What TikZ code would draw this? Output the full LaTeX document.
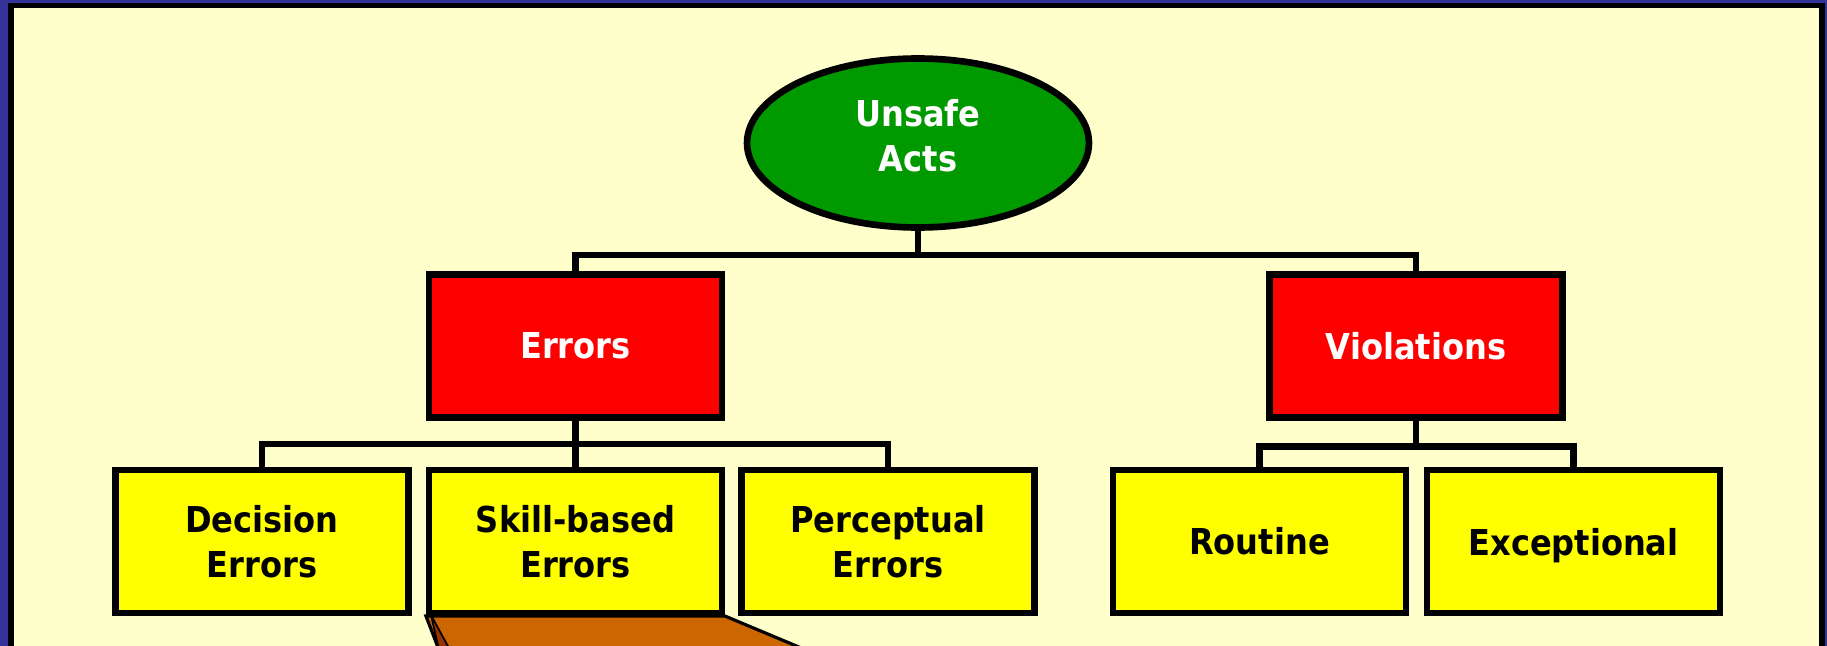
\documentclass[tikz,border=0pt]{standalone}
\usepackage{fontspec}
\usetikzlibrary{shapes.geometric, positioning, calc, backgrounds}
\newfontfamily\chartfont{DejaVu Sans Condensed}
\definecolor{framenavy}{HTML}{333399}
\definecolor{panelcream}{HTML}{FFFFCC}
\definecolor{actgreen}{HTML}{009900}
\definecolor{typered}{HTML}{FF0000}
\definecolor{leafyellow}{HTML}{FFFF00}
\definecolor{calloutbrown}{HTML}{CC6600}
\definecolor{calloutshade}{HTML}{993300}

\begin{document}
\begin{tikzpicture}[x=0.02cm, y=-0.02cm,
  label font/.style={font=\chartfont\bfseries\fontsize{20.3}{25.5}\selectfont},
  box/.style={draw=black, line width=3.5pt, minimum width=5.86cm, minimum height=2.86cm,
    inner sep=0pt, align=center, label font},
  typebox/.style={box, fill=typered, text=white},
  leafbox/.style={box, fill=leafyellow, text=black},
  link/.style={draw=black, line width=3.5pt}]
  \useasboundingbox (0,0) rectangle (1827,646);

  % Frame and panel
  \begin{scope}[on background layer]
    \fill[framenavy] (0,0) rectangle (1827,646);
    \fill[black] (8,3) rectangle (1825,650);
    \fill[panelcream] (14,8) rectangle (1819,650);
  \end{scope}

  % Root
  \node[ellipse, draw=black, line width=3.8pt, fill=actgreen, text=white,
    minimum width=6.84cm, minimum height=3.38cm, inner sep=0pt, align=center, label font]
    (acts) at (918,143) {Unsafe\\Acts\rule[-9pt]{0pt}{0pt}};

  % Types of unsafe acts
  \node[typebox] (errors) at (575.5,346) {Errors};
  \node[typebox] (violations) at (1416,346) {Violations};

  % Error and violation kinds
  \node[leafbox] (decision) at (262,541.5) {Decision\\Errors};
  \node[leafbox] (skill) at (575.5,541.5) {Skill-based\\Errors};
  \node[leafbox] (perceptual) at (888,541.5) {Perceptual\\Errors};
  \node[leafbox] (routine) at (1259.5,541.5) {Routine};
  \node[leafbox] (exceptional) at (1573.5,541.5) {\rule{0pt}{20pt}Exceptional};

  % Tree connectors
  \coordinate (acttee) at ($(acts.south)+(0,24)$);
  \coordinate (errtee) at ($(errors.south)!0.5!(skill.north)$);
  \coordinate (violtee) at ($(violations.south)+(0,26)$);
  \draw[link] (acts.south) -- (acttee);
  \draw[link] (errors.north) |- (acttee) -| (violations.north);
  \draw[link] (errors.south) -- (skill.north);
  \draw[link] (decision.north) |- (errtee) -| (perceptual.north);
  \draw[link] (violations.south) -- (violtee);
  \draw[link] (routine.north) |- (violtee) -| (exceptional.north);

  % Callout below skill-based errors
  \begin{scope}[on background layer]
    \filldraw[fill=calloutbrown, draw=black, line width=1.8pt]
      (skill.south west) -- (skill.south east) -- (806,650) -- (439,650) -- cycle;
    \filldraw[fill=calloutshade, draw=black, line width=1pt]
      (431,615) -- (450,650) -- (439,650) -- cycle;
  \end{scope}
\end{tikzpicture}
\end{document}
